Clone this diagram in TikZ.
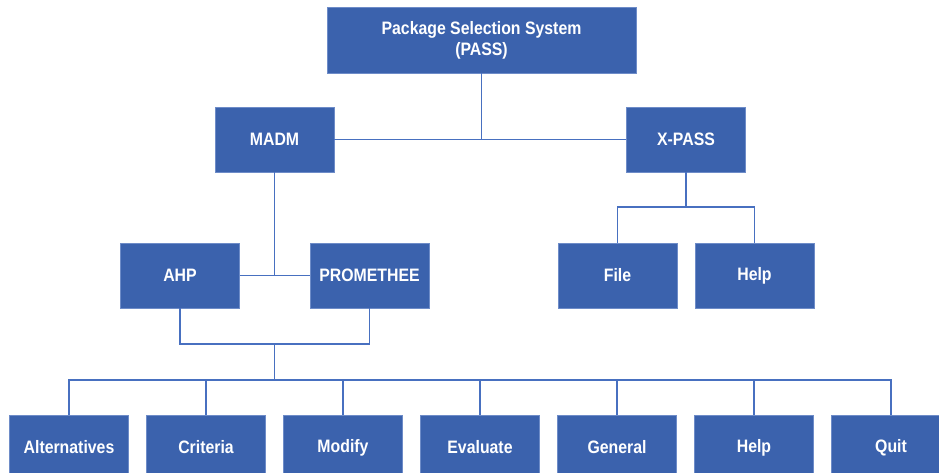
\documentclass[tikz,border=0pt]{standalone}
\usepackage{fontspec}
\setmainfont{Liberation Sans}[FakeStretch=0.88]
\definecolor{boxblue}{RGB}{59,98,173}
\definecolor{boxedge}{RGB}{110,140,200}
\definecolor{lineblue}{RGB}{72,112,192}

\begin{document}
\begin{tikzpicture}[x=1pt,y=-1pt,node distance=137pt,
  line width=1.2pt,color=lineblue,
  box/.style={rectangle,fill=boxblue,draw=boxedge,line width=0.6pt,
  text=white,font=\fontsize{18}{21}\selectfont\bfseries,align=center,
  minimum width=119pt,minimum height=65pt,inner sep=0pt}]

  \clip (0,0) rectangle (939,473);

  \node[box,minimum width=309pt,minimum height=66pt] (pass) at (481.5,40)
    {Package Selection System\\(PASS)};
  \node[box] (madm) at (274.5,139.5) {MADM};
  \node[box] (xpass) at (686,139.5) {X-PASS};

  \node[box] (ahp) at (180,275.5) {AHP};
  \node[box] (prom) at (369.5,275.5) {PROMETHEE};
  \node[box] (file) at (617.5,275.5) {File};
  \node[box] (xhelp) [right of=file] {Help};

  \node[box] (alt) at (69,447.5) {Alternatives};
  \node[box] (crit) [right of=alt] {Criteria};
  \node[box] (modify) [right of=crit] {Modify};
  \node[box] (eval) [right of=modify] {Evaluate};
  \node[box] (general) [right of=eval] {General};
  \node[box] (help) [right of=general] {Help};
  \node[box] (quit) [right of=help] {Quit};

  \coordinate (j1) at (274.5,344);
  \coordinate (bus) at (274.5,380);
  \coordinate (j3) at (686,207);

  % top level
  \draw (pass.south) -- (pass.south |- madm.east);
  \draw (madm.east) -- (xpass.west);

  % MADM branch
  \draw (madm.south) -- (madm.south |- ahp.east);
  \draw (ahp.east) -- (prom.west);
  \draw (ahp.south) |- (j1) -| (prom.south);
  \draw (j1) -- (bus);
  \draw (alt.north) |- (quit.north |- bus) -- (quit.north);
  \foreach \n in {crit,modify,eval,general,help}
    \draw (\n.north) -- (\n.north |- bus);

  % X-PASS branch
  \draw (xpass.south) -- (j3);
  \draw (file.north) |- (j3) -| (xhelp.north);

\end{tikzpicture}
\end{document}
